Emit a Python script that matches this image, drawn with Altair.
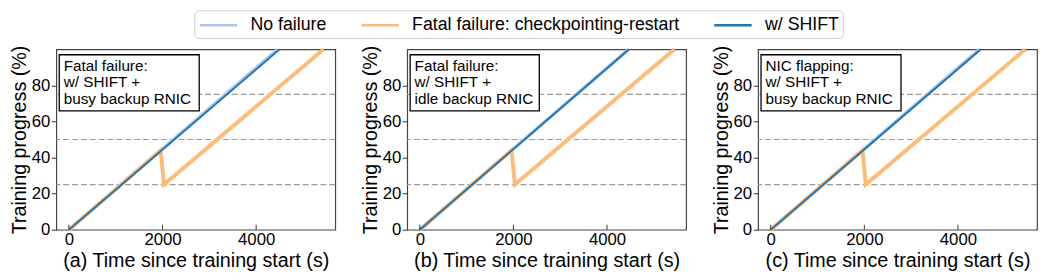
import altair as alt
import pandas as pd

FONT = "Liberation Sans"

# ---- data -------------------------------------------------------------
series_names = ["No failure", "Fatal failure: checkpointing-restart", "w/ SHIFT"]
series_colors = ["#aec7e8", "#ffbb78", "#1f77b4"]

panel_ids = ["a", "b", "c"]
x_titles = [
    "(a) Time since training start (s)",
    "(b) Time since training start (s)",
    "(c) Time since training start (s)",
]
box_lines = [
    ["Fatal failure:", "w/ SHIFT +", "busy backup RNIC"],
    ["Fatal failure:", "w/ SHIFT +", "idle backup RNIC"],
    ["NIC flapping:", "w/ SHIFT +", "busy backup RNIC"],
]

# No failure (ideal)
nofail_t = [0, 4460]
nofail_p = [0, 100]
# Fatal failure with checkpointing-restart
fatal_t = [0, 1960, 2030, 5440]
fatal_p = [0, 44, 25, 100]
# w/ SHIFT, per panel end time
shift_t = {"a": [0, 4500], "b": [0, 4470], "c": [0, 4490]}
shift_p = [0, 100]

ref_levels = [25, 50, 75]
x_tick_values = [0, 2000, 4000]
y_tick_values = [0, 20, 40, 60, 80]
x_domain = [-270, 5690]
y_domain = [0, 100]

# box geometry per panel (annotation styling)
box_right = [145, 134, 145]

W, H = 283, 183

color_scale = alt.Scale(domain=series_names, range=series_colors)
legend = alt.Legend(
    title=None,
    orient="none",
    legendX=140,
    legendY=-39.5,
    direction="horizontal",
    symbolType="M-1,0H3",
    symbolSize=361,
    symbolStrokeWidth=2.5,
    labelFont=FONT,
    labelFontSize=18,
    labelColor="black",
    labelOffset=31,
    labelLimit=400,
    columnPadding=29,
    padding=4,
    strokeColor="#cccccc",
    cornerRadius=4,
    fillColor="white",
)


def panel(i):
    pid = panel_ids[i]
    lines = pd.concat(
        [
            pd.DataFrame({"t": nofail_t, "p": nofail_p, "series": series_names[0]}),
            pd.DataFrame({"t": fatal_t, "p": fatal_p, "series": series_names[1]}),
            pd.DataFrame({"t": shift_t[pid], "p": shift_p, "series": series_names[2]}),
        ],
        ignore_index=True,
    )
    xs = alt.Scale(domain=x_domain, nice=False, zero=False)
    ys = alt.Scale(domain=y_domain, nice=False)
    x_enc = alt.X(
        "t:Q",
        scale=xs,
        axis=alt.Axis(title=x_titles[i], values=x_tick_values, format="d", tickSize=0, labelPadding=2, titlePadding=3),
    )
    y_enc = alt.Y(
        "p:Q",
        scale=ys,
        axis=alt.Axis(title="Training progress (%)", values=y_tick_values, tickSize=5, labelPadding=1.5, titlePadding=2),
    )

    refs = alt.Chart(pd.DataFrame({"level": ref_levels})).mark_rule(
        color="#9a9a9a", strokeDash=[6, 3], strokeWidth=1.2
    ).encode(y=alt.Y("level:Q", scale=ys))

    widths = [3.5, 4, 2]
    line_layers = []
    for k, name in enumerate(series_names):
        line_layers.append(
            alt.Chart(lines)
            .transform_filter(alt.datum.series == name)
            .mark_line(strokeWidth=widths[k], strokeCap="butt")
            .encode(
                x=x_enc,
                y=y_enc,
                color=alt.Color("series:N", scale=color_scale, legend=legend),
                order=alt.Order("t:Q"),
            )
        )

    ticks = alt.Chart(pd.DataFrame({"t": x_tick_values})).mark_rule(color="#333333", strokeWidth=1).encode(
        x=alt.X("t:Q", scale=xs), y=alt.value(H), y2=alt.value(H - 5)
    )

    ann = pd.DataFrame({"label": [box_lines[i]]})
    box = alt.Chart(ann).mark_rect(fill="white", stroke="black", strokeWidth=1.3).encode(
        x=alt.value(3), x2=alt.value(box_right[i]), y=alt.value(5.5), y2=alt.value(62.5)
    )
    txt = alt.Chart(ann).mark_text(
        align="left", baseline="middle", font=FONT, fontSize=15.5, lineHeight=17, color="black"
    ).encode(x=alt.value(7.5), y=alt.value(16.5), text="label")

    return alt.layer(refs, *line_layers, ticks, box, txt).properties(width=W, height=H)


chart = (
    alt.hconcat(*[panel(i) for i in range(3)], spacing=22)
    .properties(padding={"left": 0, "top": 0, "right": 0, "bottom": 0})
    .configure_view(stroke="#444444", strokeWidth=1.2)
    .configure_axis(
        labelFont=FONT,
        titleFont=FONT,
        labelFontSize=17,
        titleFontSize=20,
        titleFontWeight="normal",
        labelColor="black",
        titleColor="black",
        tickColor="#333333",
        grid=False,
        domain=False,
    )
)

chart.save("out.html", embed_options={"renderer": "svg", "actions": False})
